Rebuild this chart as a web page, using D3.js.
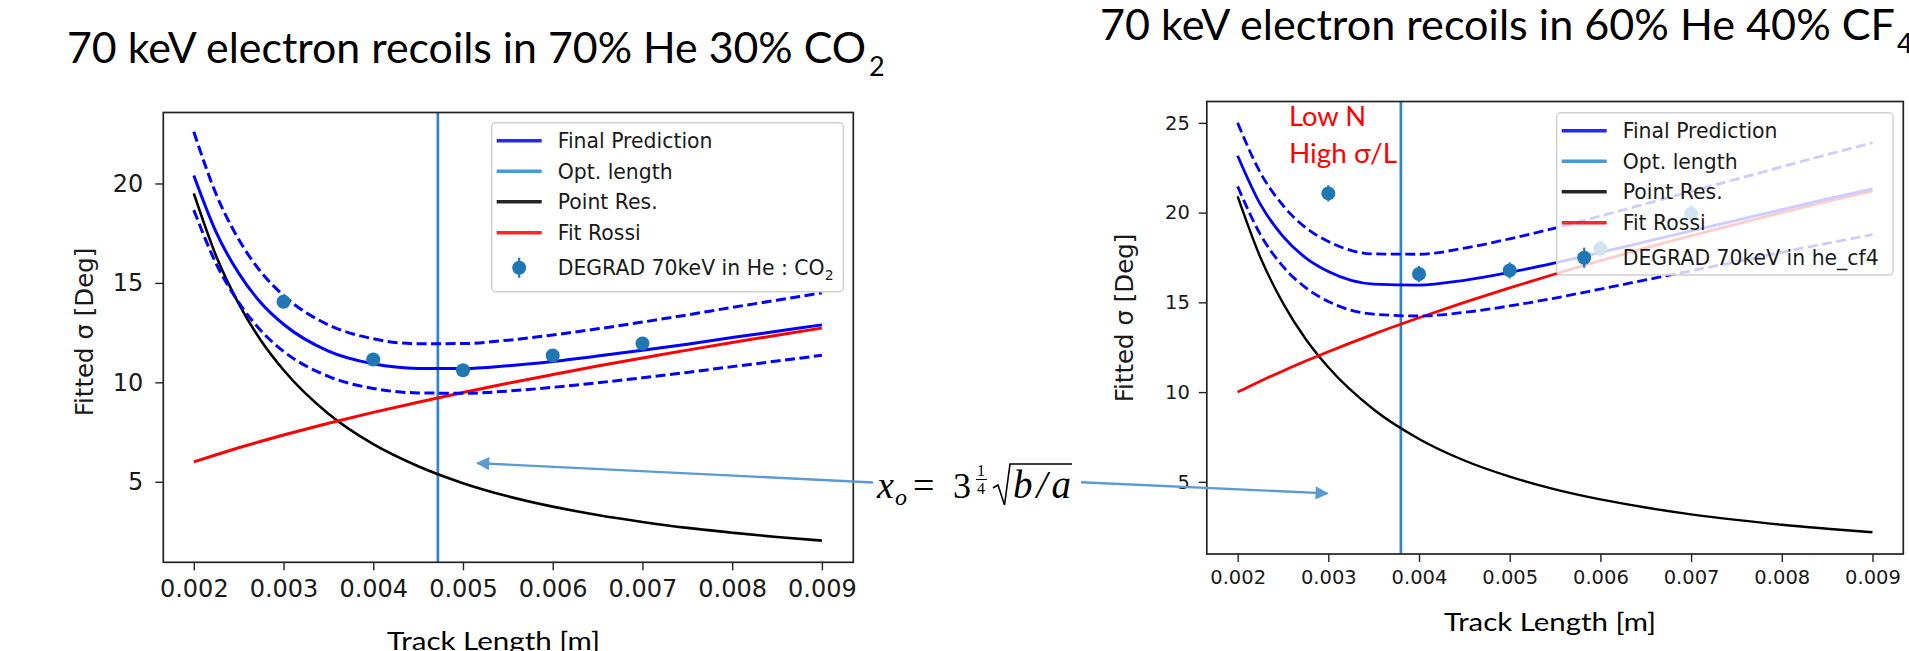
<!DOCTYPE html>
<html lang="en">
<head>
<meta charset="utf-8">
<title>70 keV electron recoils - optimal track length</title>
<script src="https://cdnjs.cloudflare.com/ajax/libs/d3/7.8.5/d3.min.js"></script>
<style>
  body { margin: 0; background: #fff; }
  svg { display: block; }
  .tick text { font-family: "DejaVu Sans", sans-serif; fill: #1a1a1a; }
  .tick line { stroke: #222; stroke-width: 1.4; }
  .mpl { font-family: "DejaVu Sans", sans-serif; fill: #1a1a1a; }
  .slide { font-family: Lato, "Open Sans", sans-serif; fill: #000; }
  .math { font-family: "Liberation Serif", "DejaVu Serif", serif; fill: #000; }
</style>
</head>
<body>
<script>
var trackLengths = [0.002, 0.00225, 0.0025, 0.00275, 0.003, 0.0035, 0.004, 0.0045,
                    0.005, 0.0055, 0.006, 0.0065, 0.007, 0.0075, 0.008, 0.0085, 0.009];
var xTicks = [0.002, 0.003, 0.004, 0.005, 0.006, 0.007, 0.008, 0.009];

// ---- 70% He 30% CO2 ----
var co2PointRes = [19.5, 16.34, 13.96, 12.09, 10.62, 8.42, 6.89, 5.78, 4.93, 4.27, 3.75, 3.33, 2.98, 2.68, 2.44, 2.22, 2.04];
var co2Rossi    = [6.0, 6.36, 6.71, 7.04, 7.35, 7.94, 8.49, 9.0, 9.49, 9.95, 10.39, 10.82, 11.22, 11.62, 12.0, 12.37, 12.73];
var co2Pred     = [20.40, 17.54, 15.49, 13.99, 12.92, 11.57, 10.93, 10.70, 10.69, 10.83, 11.05, 11.32, 11.61, 11.92, 12.25, 12.57, 12.89];
var co2Upper    = [22.6, 19.45, 17.19, 15.54, 14.37, 12.89, 12.19, 11.94, 11.95, 12.12, 12.38, 12.69, 13.03, 13.39, 13.77, 14.13, 14.5];
var co2Lower    = [18.66, 15.96, 14.02, 12.59, 11.56, 10.30, 9.69, 9.47, 9.45, 9.56, 9.75, 9.98, 10.23, 10.50, 10.79, 11.07, 11.36];
var co2SimLength = [0.003, 0.004, 0.005, 0.006, 0.007];
var co2SimSigma  = [14.05, 11.15, 10.61, 11.35, 11.95];
var co2SimErr    = [0.3, 0.3, 0.3, 0.3, 0.3];
var co2OptLength = 0.00472;
var co2YTicks = [5, 10, 15, 20];

// ---- 60% He 40% CF4 ----
var cf4PointRes = [20.9, 17.51, 14.96, 12.96, 11.38, 9.03, 7.39, 6.19, 5.29, 4.58, 4.02, 3.57, 3.19, 2.88, 2.61, 2.39, 2.19];
var cf4Rossi    = [10.0, 10.61, 11.18, 11.73, 12.25, 13.23, 14.14, 15.0, 15.81, 16.58, 17.32, 18.03, 18.71, 19.36, 20.0, 20.62, 21.21];
var cf4Pred     = [23.17, 20.47, 18.68, 17.48, 16.72, 16.02, 15.96, 16.23, 16.67, 17.20, 17.78, 18.38, 18.98, 19.57, 20.17, 20.76, 21.32];
var cf4Upper    = [25.0, 22.23, 20.40, 19.16, 18.39, 17.70, 17.68, 18.02, 18.54, 19.14, 19.81, 20.49, 21.18, 21.86, 22.55, 23.23, 23.89];
var cf4Lower    = [21.46, 18.79, 17.0, 15.82, 15.05, 14.34, 14.24, 14.44, 14.80, 15.24, 15.74, 16.25, 16.76, 17.26, 17.79, 18.29, 18.78];
var cf4SimLength = [0.003, 0.004, 0.005, 0.006, 0.007];
var cf4SimSigma  = [21.07, 16.58, 16.78, 17.99, 19.94];
var cf4SimErr    = [0.45, 0.45, 0.45, 0.45, 0.45];
var cf4OptLength = 0.0038;
var cf4YTicks = [5, 10, 15, 20, 25];

var legendLabels = ["Final Prediction", "Opt. length", "Point Res.", "Fit Rossi"];
var optColor = "#2f86c4";
var pointColor = "#1f77b4";

var svg = d3.select("body").append("svg")
    .attr("width", 1909)
    .attr("height", 651);

svg.append("rect").attr("width", 1909).attr("height", 651).attr("fill", "#fff");


function drawPanel(p) {
  var x = d3.scaleLinear().domain(p.xDomain).range([p.left, p.right]);
  var y = d3.scaleLinear().domain(p.yDomain).range([p.bottom, p.top]);
  var g = svg.append("g");

  var line = d3.line()
      .x(function(d, i) { return x(trackLengths[i]); })
      .y(function(d) { return y(d); })
      .curve(d3.curveMonotoneX);

  // vertical line at the optimal length
  g.append("line")
      .attr("x1", x(p.opt)).attr("x2", x(p.opt))
      .attr("y1", p.top).attr("y2", p.bottom)
      .attr("stroke", optColor).attr("stroke-width", 2.7);

  var w = p.lw;
  var curves = [
    { v: p.pointRes, c: "#000", w: w - 0.4, dash: null },
    { v: p.rossi, c: "#ff0000", w: w, dash: null },
    { v: p.upper, c: "#0000ff", w: w, dash: "10,4.5" },
    { v: p.lower, c: "#0000ff", w: w, dash: "10,4.5" },
    { v: p.pred, c: "#0000ff", w: w, dash: null }
  ];
  curves.forEach(function(cv) {
    g.append("path")
        .attr("d", line(cv.v))
        .attr("fill", "none")
        .attr("stroke", cv.c)
        .attr("stroke-width", cv.w)
        .attr("stroke-dasharray", cv.dash);
  });

  // DEGRAD points with error bars
  var pts = g.selectAll(".pt")
      .data(p.simLength)
      .enter()
      .append("g");
  pts.append("line")
      .attr("x1", function(d) { return x(d); })
      .attr("x2", function(d) { return x(d); })
      .attr("y1", function(d, i) { return y(p.simSigma[i] - p.simErr[i]); })
      .attr("y2", function(d, i) { return y(p.simSigma[i] + p.simErr[i]); })
      .attr("stroke", pointColor).attr("stroke-width", 2.2);
  pts.append("circle")
      .attr("cx", function(d) { return x(d); })
      .attr("cy", function(d, i) { return y(p.simSigma[i]); })
      .attr("r", 7)
      .attr("fill", pointColor);

  // legend (semi transparent, as matplotlib's default)
  var lg = g.append("g").attr("transform", "translate(" + p.legend[0] + "," + p.legend[1] + ")");
  lg.append("rect")
      .attr("width", p.legend[2]).attr("height", p.legend[3])
      .attr("rx", 4)
      .attr("fill", "#fff").attr("fill-opacity", 0.8)
      .attr("stroke", "#d0d0d0").attr("stroke-width", 1.4);
  var rowY = [18, 48.5, 79, 110, 145];
  var handleColors = ["#0000ff", optColor, "#000", "#ff0000"];
  legendLabels.forEach(function(lab, i) {
    lg.append("line")
        .attr("x1", 5).attr("x2", 50)
        .attr("y1", rowY[i]).attr("y2", rowY[i])
        .attr("stroke", handleColors[i]).attr("stroke-width", 3.6)
        .attr("stroke-opacity", 0.85);
    lg.append("text").attr("class", "mpl")
        .attr("x", 66).attr("y", rowY[i])
        .attr("dy", "0.36em")
        .style("font-size", "20.4px")
        .text(lab);
  });
  lg.append("line")
      .attr("x1", 27.5).attr("x2", 27.5)
      .attr("y1", rowY[4] - 10).attr("y2", rowY[4] + 10)
      .attr("stroke", pointColor).attr("stroke-width", 2.2);
  lg.append("circle").attr("cx", 27.5).attr("cy", rowY[4]).attr("r", 7).attr("fill", pointColor);
  var simLab = lg.append("text").attr("class", "mpl")
      .attr("x", 66).attr("y", rowY[4])
      .attr("dy", "0.36em")
      .style("font-size", "20.4px")
      .text(p.simLabel);
  if (p.simSub) {
    simLab.append("tspan").attr("dy", "5").style("font-size", "14px").text(p.simSub);
  }

  // axes
  var xAxis = g.append("g")
      .attr("transform", "translate(0," + p.bottom + ")")
      .call(d3.axisBottom(x).tickValues(xTicks).tickSize(8).tickSizeOuter(0)
            .tickPadding(p.xPad).tickFormat(d3.format(".3f")));
  xAxis.selectAll("text").style("font-size", p.tickFont + "px");
  var yAxis = g.append("g")
      .attr("transform", "translate(" + p.left + ",0)")
      .call(d3.axisLeft(y).tickValues(p.yTicks).tickSize(8).tickSizeOuter(0)
            .tickPadding(p.yPad).tickFormat(d3.format("d")));
  yAxis.selectAll("text").style("font-size", p.tickFont + "px");
  g.selectAll(".domain").remove();

  g.append("rect")
      .attr("x", p.left).attr("y", p.top)
      .attr("width", p.right - p.left).attr("height", p.bottom - p.top)
      .attr("fill", "none").attr("stroke", "#222").attr("stroke-width", 1.7);

  g.append("text").attr("class", "mpl")
      .attr("transform", "translate(" + p.yLabelPos[0] + "," + p.yLabelPos[1] + ") rotate(-90)")
      .attr("text-anchor", "middle")
      .style("font-size", "24.5px")
      .text("Fitted \u03c3 [Deg]");

  return { x: x, y: y };
}

var leftAx = drawPanel({
  left: 163.3, right: 853.3, top: 112.5, bottom: 562.3,
  xDomain: [0.00166, 0.00935], yDomain: [0.95, 23.57],
  pointRes: co2PointRes, rossi: co2Rossi, pred: co2Pred, upper: co2Upper, lower: co2Lower,
  simLength: co2SimLength, simSigma: co2SimSigma, simErr: co2SimErr,
  opt: co2OptLength, yTicks: co2YTicks, lw: 3,
  legend: [491.7, 122.7, 351.6, 169], simLabel: "DEGRAD 70keV in He : CO", simSub: "2",
  tickFont: 24, xPad: 10, yPad: 12, yLabelPos: [93, 332]
});

var rightAx = drawPanel({
  left: 1206.8, right: 1903.3, top: 101.5, bottom: 554,
  xDomain: [0.00166, 0.00934], yDomain: [0.98, 26.19],
  pointRes: cf4PointRes, rossi: cf4Rossi, pred: cf4Pred, upper: cf4Upper, lower: cf4Lower,
  simLength: cf4SimLength, simSigma: cf4SimSigma, simErr: cf4SimErr,
  opt: cf4OptLength, yTicks: cf4YTicks, lw: 2.8,
  legend: [1556.7, 112.7, 336.3, 162.3], simLabel: "DEGRAD 70keV in he_cf4", simSub: null,
  tickFont: 19.5, xPad: 8, yPad: 9, yLabelPos: [1133, 318]
});


// ---- slide text ----
svg.append("text").attr("class", "slide")
    .attr("x", 67).attr("y", 63)
    .attr("textLength", 799).attr("lengthAdjust", "spacingAndGlyphs")
    .style("font-size", "42px")
    .text("70 keV electron recoils in 70% He 30% CO");
svg.append("text").attr("class", "slide")
    .attr("x", 869).attr("y", 76)
    .style("font-size", "27px")
    .text("2");

svg.append("text").attr("class", "slide")
    .attr("x", 1100).attr("y", 40)
    .attr("textLength", 795).attr("lengthAdjust", "spacingAndGlyphs")
    .style("font-size", "42px")
    .text("70 keV electron recoils in 60% He 40% CF");
svg.append("text").attr("class", "slide")
    .attr("x", 1897).attr("y", 53)
    .style("font-size", "27px")
    .text("4");

svg.append("text").attr("class", "slide")
    .attr("x", 493.5).attr("y", 650).attr("text-anchor", "middle")
    .attr("textLength", 213).attr("lengthAdjust", "spacingAndGlyphs")
    .style("font-size", "25.5px")
    .text("Track Length [m]");
svg.append("text").attr("class", "slide")
    .attr("x", 1550).attr("y", 631).attr("text-anchor", "middle")
    .attr("textLength", 212).attr("lengthAdjust", "spacingAndGlyphs")
    .style("font-size", "25.5px")
    .text("Track Length [m]");

svg.append("text").attr("class", "slide")
    .attr("x", 1289).attr("y", 126)
    .attr("textLength", 77).attr("lengthAdjust", "spacingAndGlyphs")
    .style("font-size", "26px").style("fill", "#ff0000")
    .text("Low N");
svg.append("text").attr("class", "slide")
    .attr("x", 1289).attr("y", 163)
    .attr("textLength", 108).attr("lengthAdjust", "spacingAndGlyphs")
    .style("font-size", "26px").style("fill", "#ff0000")
    .text("High \u03c3/L");

// ---- formula x_o = 3^(1/4) sqrt(b/a) with arrows to both panels ----
var arrowColor = "#5b9bd5";
var defs = svg.append("defs");
defs.append("marker")
    .attr("id", "head")
    .attr("viewBox", "0 0 10 10")
    .attr("refX", 9).attr("refY", 5)
    .attr("markerWidth", 6.5).attr("markerHeight", 5.5)
    .attr("markerUnits", "strokeWidth")
    .attr("orient", "auto")
    .append("path").attr("d", "M0,0 L10,5 L0,10 z").attr("fill", arrowColor);

svg.append("line")
    .attr("x1", 873).attr("y1", 482.5)
    .attr("x2", leftAx.x(0.00516)).attr("y2", leftAx.y(5.94))
    .attr("stroke", arrowColor).attr("stroke-width", 2.4)
    .attr("marker-end", "url(#head)");
svg.append("line")
    .attr("x1", 1081).attr("y1", 482.3)
    .attr("x2", rightAx.x(0.00299)).attr("y2", rightAx.y(4.36))
    .attr("stroke", arrowColor).attr("stroke-width", 2.4)
    .attr("marker-end", "url(#head)");

var fx = svg.append("g");
fx.append("rect").attr("x", 874).attr("y", 455).attr("width", 205).attr("height", 58).attr("fill", "#fff");
fx.append("text").attr("class", "math").attr("x", 877).attr("y", 498)
    .style("font-size", "38px").style("font-style", "italic").text("x");
fx.append("text").attr("class", "math").attr("x", 895).attr("y", 505)
    .style("font-size", "24px").style("font-style", "italic").text("o");
fx.append("text").attr("class", "math").attr("x", 913).attr("y", 498)
    .attr("textLength", 23)
    .style("font-size", "38px").text("=");
fx.append("text").attr("class", "math").attr("x", 953).attr("y", 498)
    .style("font-size", "36px").text("3");
fx.append("text").attr("class", "math").attr("x", 977).attr("y", 476)
    .style("font-size", "16px").text("1");
fx.append("line").attr("x1", 976).attr("x2", 987).attr("y1", 479.5).attr("y2", 479.5)
    .attr("stroke", "#000").attr("stroke-width", 1);
fx.append("text").attr("class", "math").attr("x", 977).attr("y", 494)
    .style("font-size", "16px").text("4");
fx.append("path")
    .attr("d", "M993,488 L998,485 L1004.5,505 L1010,464 L1072,464")
    .attr("fill", "none").attr("stroke", "#000").attr("stroke-width", 1.6)
    .attr("stroke-linejoin", "miter");
fx.append("text").attr("class", "math").attr("x", 1013).attr("y", 498)
    .attr("textLength", 58).attr("lengthAdjust", "spacing")
    .style("font-size", "39px").style("font-style", "italic").text("b/a");
</script>
</body>
</html>
